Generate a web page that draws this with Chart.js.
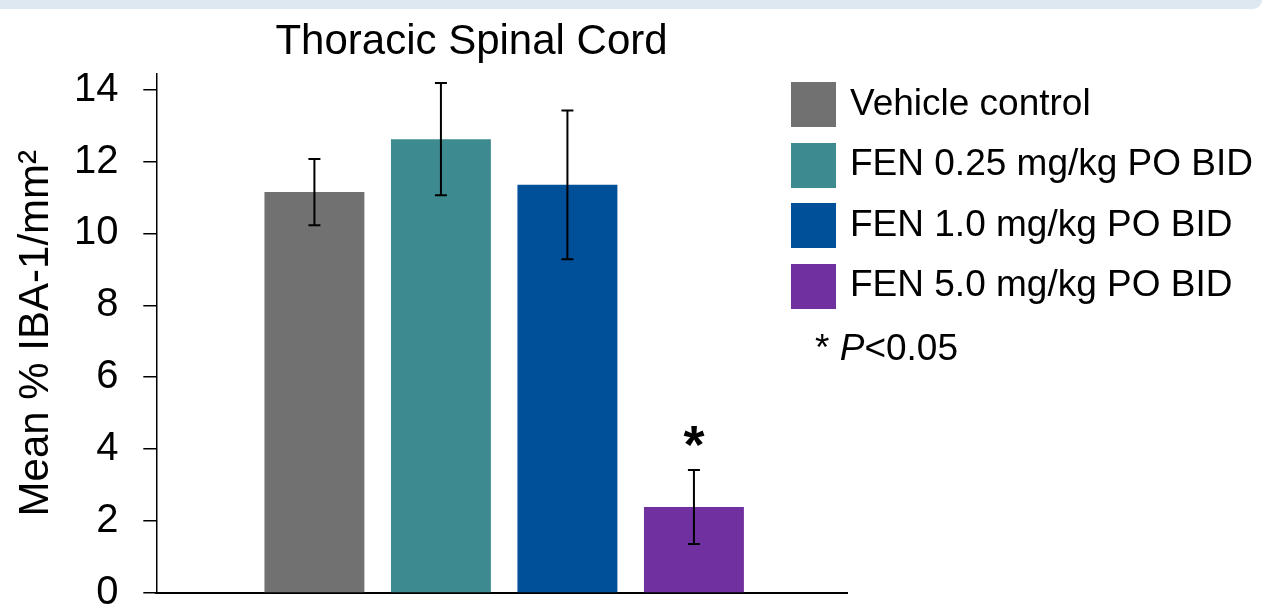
<!DOCTYPE html>
<html>
<head>
<meta charset="utf-8">
<title>Thoracic Spinal Cord</title>
<script src="https://cdn.jsdelivr.net/npm/chart.js@4.4.0/dist/chart.umd.min.js"></script>
<style>
  body {
    margin: 0;
    width: 1285px;
    height: 604px;
    overflow: hidden;
    position: relative;
    background: #fff;
    font-family: "Liberation Sans", Arial, sans-serif;
    color: #000;
  }
  .band {
    position: absolute;
    left: 0;
    top: 0;
    width: 1262px;
    height: 9px;
    background: #dde8f0;
    border-bottom-right-radius: 16px;
  }
  #thoracicChart { position: absolute; left: 0; top: 0; }
  .legend {
    position: absolute;
    left: 791px;
    top: 82px;
    font-size: 37px;
  }
  .legend .row {
    display: flex;
    align-items: center;
    height: 45px;
    margin-bottom: 15.67px;
    white-space: nowrap;
  }
  .legend .row span:last-child { position: relative; top: -2px; }
  .legend .swatch { width: 45px; height: 45px; margin-right: 14px; }
  .legend .note { padding-left: 24px; line-height: 45px; height: 45px; }
</style>
</head>
<body>
<div class="band"></div>
<canvas id="thoracicChart" width="943" height="604"></canvas>
<div class="legend" id="legend"></div>

<script>
// Treatment groups, one bar each
const groups = [
  "Vehicle control",
  "FEN 0.25 mg/kg PO BID",
  "FEN 1.0 mg/kg PO BID",
  "FEN 5.0 mg/kg PO BID"
];
const meanValues = [11.15, 12.62, 11.35, 2.39]; // Mean % IBA-1/mm2
const errorValues = [0.92, 1.56, 2.07, 1.03];   // error bar half-length
const significance = ["", "", "", "*"];          // marker above the bar
const barColors = ["#717171", "#3e8a91", "#004f99", "#7030a0"];

Chart.defaults.font.family = '"Liberation Sans", Arial, sans-serif';
Chart.defaults.color = "#000";

// Legend built from the same arrays
const legendEl = document.getElementById("legend");
groups.forEach((name, i) => {
  const row = document.createElement("div");
  row.className = "row";
  row.innerHTML = `<span class="swatch" style="background:${barColors[i]}"></span><span>${name}</span>`;
  legendEl.appendChild(row);
});
const note = document.createElement("div");
note.className = "note";
note.innerHTML = "* <i>P</i>&lt;0.05";
legendEl.appendChild(note);

// Error bars and significance marks, placed with the chart's own scales
const errorBarPlugin = {
  id: "errorBars",
  afterDatasetsDraw(chart) {
    const { ctx } = chart;
    const y = chart.scales.y;
    const meta = chart.getDatasetMeta(0);
    ctx.save();
    ctx.strokeStyle = "#000";
    ctx.fillStyle = "#000";
    ctx.lineWidth = 2;
    meta.data.forEach((bar, i) => {
      const top = y.getPixelForValue(meanValues[i] + errorValues[i]);
      const bottom = y.getPixelForValue(meanValues[i] - errorValues[i]);
      ctx.beginPath();
      ctx.moveTo(bar.x, top);
      ctx.lineTo(bar.x, bottom);
      ctx.moveTo(bar.x - 6, top);
      ctx.lineTo(bar.x + 6, top);
      ctx.moveTo(bar.x - 6, bottom);
      ctx.lineTo(bar.x + 6, bottom);
      ctx.stroke();
      if (significance[i]) {
        ctx.font = 'bold 54px "Liberation Sans", Arial, sans-serif';
        ctx.textAlign = "center";
        ctx.textBaseline = "alphabetic";
        ctx.fillText(significance[i], bar.x, top - 7);
      }
    });
    ctx.restore();
  }
};

const ctx = document.getElementById("thoracicChart").getContext("2d");
new Chart(ctx, {
  type: "bar",
  data: {
    datasets: [{
      label: "Mean % IBA-1/mm²",
      data: groups.map((g, i) => ({ x: i, y: meanValues[i] })),
      backgroundColor: barColors,
      barPercentage: 0.79,
      categoryPercentage: 1.0
    }]
  },
  options: {
    responsive: false,
    animation: false,
    layout: { padding: { top: 0, left: 0, right: 0, bottom: 11 } },
    plugins: {
      legend: { display: false },
      tooltip: { enabled: false },
      title: {
        display: true,
        text: "Thoracic Spinal Cord",
        color: "#000",
        font: { size: 42, weight: "normal" },
        padding: { top: 17, bottom: 6 }
      }
    },
    scales: {
      x: {
        type: "linear",
        min: -1.25,
        max: 4.21,
        offset: false,
        ticks: { display: false, stepSize: 1, includeBounds: false },
        grid: { display: false, drawTicks: false },
        border: { display: true, color: "#000", width: 2 }
      },
      y: {
        min: 0,
        max: 14.45,
        ticks: {
          stepSize: 2,
          includeBounds: false,
          color: "#000",
          padding: 24.7,
          font: { size: 40 }
        },
        grid: { drawOnChartArea: false, drawTicks: true, tickLength: 13, color: "#000", lineWidth: 1.5 },
        border: { display: true, color: "#000", width: 1.5 },
        title: {
          display: true,
          text: "Mean % IBA-1/mm²",
          color: "#000",
          font: { size: 42 },
          padding: { top: 11, bottom: -12 }
        },
        // the "0" label is allowed to run past the bottom edge, as in the original
        afterFit(scale) { scale.paddingBottom = 0; }
      },
      // empty space on the right so the title centres like the original figure
      legendSpace: {
        axis: "y",
        position: "right",
        ticks: { display: false },
        grid: { display: false, drawTicks: false },
        border: { display: false },
        afterFit(scale) { scale.width = 96; }
      }
    }
  },
  plugins: [errorBarPlugin]
});
</script>
</body>
</html>
